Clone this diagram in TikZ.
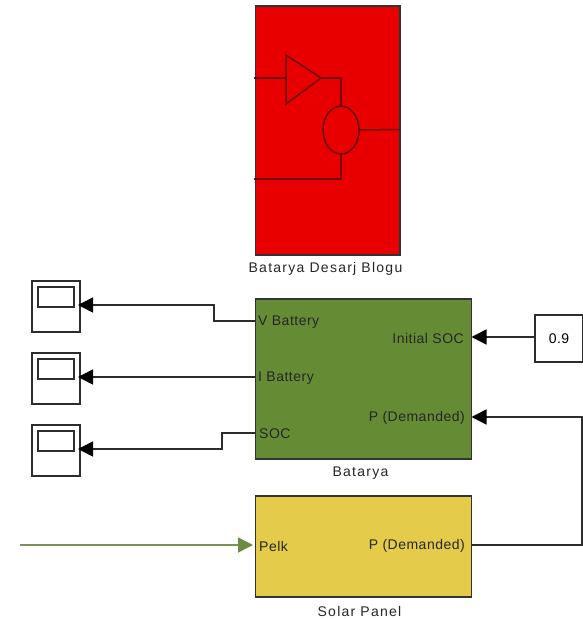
\documentclass[tikz,border=0pt]{standalone}
\usepackage{fontspec}
\setmainfont{Liberation Sans}
\newfontfamily\capfont[LetterSpace=9]{Liberation Sans}
\newfontfamily\portfont[LetterSpace=3.5]{Liberation Sans}
\usetikzlibrary{arrows.meta,shapes.geometric}
\definecolor{redfill}{RGB}{232,0,0}
\definecolor{redline}{RGB}{110,10,10}
\definecolor{greenfill}{RGB}{101,140,52}
\definecolor{yellowfill}{RGB}{228,204,74}
\definecolor{wire}{RGB}{45,45,45}
\definecolor{greenwire}{RGB}{122,145,85}
\definecolor{greenhead}{RGB}{108,140,70}
\tikzset{
  x=1pt,y=-1pt,
  blockbox/.style={draw=black!80,line width=1.5pt,inner sep=0pt,outer sep=0pt,anchor=north west},
  scopebox/.style={draw=wire,line width=1.5pt,fill=white,inner sep=0pt,outer sep=0pt,anchor=north west,minimum width=48pt,minimum height=51pt},
  screenbox/.style={draw=wire,line width=1.5pt,fill=white,inner sep=0pt,outer sep=0pt,anchor=north west,minimum width=36pt,minimum height=20pt},
  wireline/.style={draw=wire,line width=1.5pt},
  sig/.style={wireline,-{Triangle[length=15pt,width=15pt,color=black,fill=black]}},
  redwire/.style={draw=redline,line width=1.5pt},
  portlabel/.style={font=\portfont\fontsize{14}{15}\selectfont,inner sep=0pt,text=black!85},
  caption/.style={font=\capfont\fontsize{14}{15}\selectfont,inner sep=0pt,text=black!85},
}
\begin{document}
\begin{tikzpicture}
\useasboundingbox (0,0) rectangle (583,619);
% red block
\node[blockbox,fill=redfill,minimum width=144.5pt,minimum height=249pt] (red) at (255.5,6) {};
\node[caption] (redcap) at (325.5,269) {Batarya Desarj Blogu};
\coordinate (rin1) at (254,78);
\coordinate (rin2) at (254,179);
\coordinate (rout) at (400,129.5);
\coordinate (g1) at (286,55);
\coordinate (g2) at (286,104);
\coordinate (g3) at (321,78);
\coordinate (gin) at (286,78);
\draw[redwire] (g1) -- (g3) -- (g2) -- cycle;
\node[draw=redline,line width=1.5pt,ellipse,inner sep=0pt,outer sep=0pt,minimum width=36pt,minimum height=48pt] (prod) at (341,130) {};
\draw[redwire] (rin1) -- (gin);
\draw[redwire] (g3) -| (prod.north);
\draw[redwire] (rin2) -| (prod.south);
\draw[redwire] (prod.east) -- (rout);
% green block
\node[blockbox,fill=greenfill,minimum width=216pt,minimum height=160pt] (bat) at (255.5,299) {};
\node[caption] (batcap) at (360.5,473) {Batarya};
\node[portlabel,anchor=west] (vb) at (258,322) {V Battery};
\node[portlabel,anchor=west] (ib) at (258,378) {I Battery};
\node[portlabel,anchor=west] (soc) at (259,434) {SOC};
\node[portlabel,anchor=east] (isoc) at (464,338) {Initial SOC};
\node[portlabel,anchor=east] (pd) at (465,418) {P (Demanded)};
% yellow block
\node[blockbox,fill=yellowfill,minimum width=216pt,minimum height=101pt] (sol) at (255.5,496) {};
\node[caption] (solcap) at (359.5,611) {Solar Panel};
\node[portlabel,anchor=west] (pelk) at (259,546) {Pelk};
\node[portlabel,anchor=east] (pout) at (465,546) {P (Demanded)};
% scopes
\node[scopebox] (s1) at (32,281) {};
\node[screenbox] (s1i) at (38,287) {};
\node[scopebox] (s2) at (32,353) {};
\node[screenbox] (s2i) at (38,359) {};
\node[scopebox] (s3) at (32,425) {};
\node[screenbox] (s3i) at (38,431) {};
% constant
\node[draw=wire,line width=1.5pt,fill=white,inner sep=0pt,outer sep=0pt,anchor=north west,minimum width=48pt,minimum height=47pt,font=\portfont\fontsize{14}{15}\selectfont] (const) at (535,315) {0.9\hspace{3pt}};
% connector points
\coordinate (batV) at (255.5,321);
\coordinate (batI) at (255.5,377);
\coordinate (batS) at (255.5,433);
\coordinate (batInit) at (471.5,337);
\coordinate (batP) at (471.5,417);
\coordinate (solP) at (471.5,545);
\coordinate (solIn) at (253,545);
\coordinate (src) at (20,545);
\coordinate (s1p) at (78,305);
\coordinate (s2p) at (78,377);
\coordinate (s3p) at (78,449);
\coordinate (m1) at (214,321);
\coordinate (m1b) at (214,305);
\coordinate (m3) at (222,433);
\coordinate (m3b) at (222,449);
\coordinate (r1) at (582,545);
\coordinate (r2) at (582,417);
\coordinate (cl) at (535,337);
% connectors
\draw[sig] (batV) -- (m1) -- (m1b) -- (s1p);
\draw[sig] (batI) -- (s2p);
\draw[sig] (batS) -- (m3) -- (m3b) -- (s3p);
\draw[sig] (cl) -- (batInit);
\draw[sig] (solP) -- (r1) -- (r2) -- (batP);
\draw[draw=greenwire,line width=1.5pt,-{Triangle[length=15pt,width=15pt,color=greenhead,fill=greenhead]}] (src) -- (solIn);
\end{tikzpicture}
\end{document}
